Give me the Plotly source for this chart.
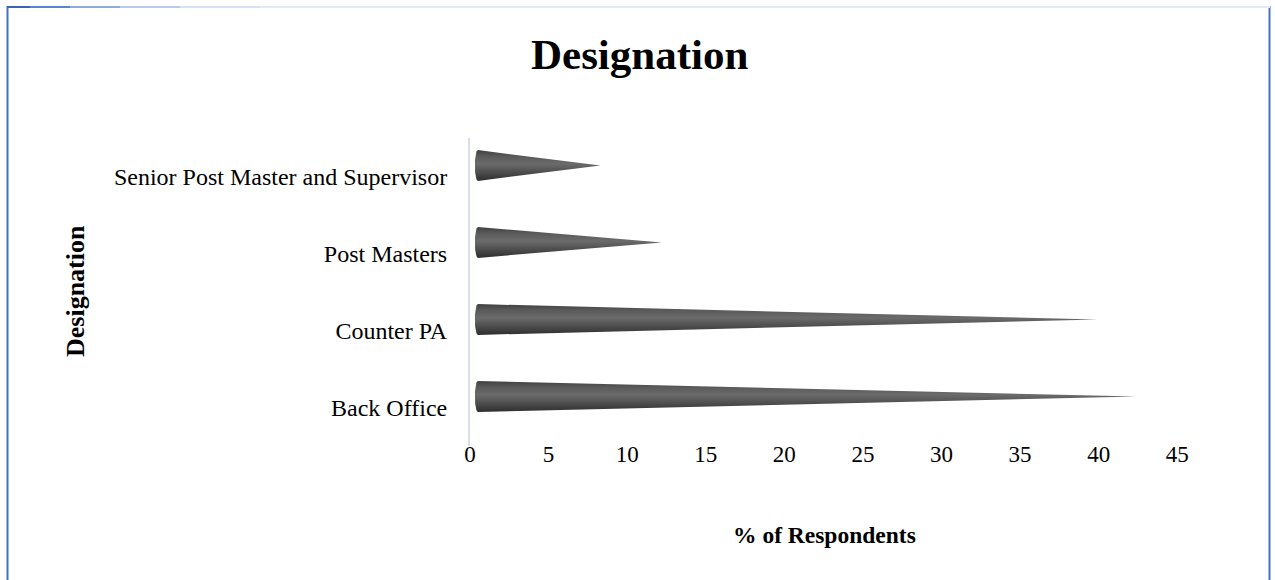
import math
import plotly.graph_objects as go

# Survey data: share of respondents per designation (%)
categories = ["Back Office", "Counter PA", "Post Masters", "Senior Post Master and Supervisor"]
percent = [41.9, 39.4, 11.7, 7.8]
x_ticks = [0, 5, 10, 15, 20, 25, 30, 35, 40, 45]

FONT = "Times New Roman, Liberation Serif, serif"

# Pixel layout of the figure
W, H = 1275, 580
PL, PR = 470, 1193          # plot area left/right (px)
PT, PB = 138, 446           # plot area top/bottom (px)
X_MAX = 46

# Cone geometry (in axis units) and pseudo-3D depth shift
HALF_H = 0.2
CAP_W = 0.19
DEPTH_X = 0.5
DEPTH_Y = 0.143


def px(xp):
    return (xp - PL) / (PR - PL)


def py(yp):
    return (PB - yp) / (PB - PT)


fig = go.Figure()

shade = [[0.0, "#2e2e2e"], [0.22, "#474747"], [0.55, "#6b6b6b"],
         [0.8, "#5a5a5a"], [1.0, "#404040"]]

for i, (cat, v) in enumerate(zip(categories, percent)):
    cy = i + DEPTH_Y
    x0 = DEPTH_X
    xs = [x0, x0 + v, x0]
    ys = [cy + HALF_H, cy, cy - HALF_H]
    n = 24
    for k in range(n + 1):
        t = math.pi * k / n
        xs.append(x0 - CAP_W * math.sin(t))
        ys.append(cy - HALF_H * math.cos(t))
    fig.add_trace(go.Scatter(
        x=xs, y=ys, mode="lines", fill="toself",
        line=dict(width=0, color="#3a3a3a"),
        fillgradient=dict(type="vertical", colorscale=shade),
        hoverinfo="skip", showlegend=False, name=cat,
    ))

fig.update_layout(
    width=W, height=H,
    margin=dict(l=PL, r=W - PR, t=PT, b=H - PB, pad=0),
    paper_bgcolor="white", plot_bgcolor="white",
    font=dict(family=FONT, color="#000000"),
    showlegend=False,
    xaxis=dict(
        range=[0, X_MAX], tickvals=x_ticks, ticktext=[str(t) for t in x_ticks],
        showgrid=False, zeroline=False, showline=False, ticks="",
        tickfont=dict(family=FONT, size=23, color="#000000"),
        ticklabelstandoff=-8,
    ),
    yaxis=dict(
        range=[-0.5, 3.5], tickvals=list(range(len(categories))), ticktext=categories,
        showgrid=False, zeroline=False, showline=True, linecolor="#d9dee9", linewidth=2,
        ticks="", tickfont=dict(family=FONT, size=24, color="#000000"),
        ticklabelstandoff=16,
    ),
    annotations=[
        dict(text="<b>Designation</b>", x=px(640), y=py(54), xref="paper", yref="paper",
             showarrow=False, xanchor="center", yanchor="middle",
             font=dict(family=FONT, size=43, color="#000000")),
        dict(text="<b>% of Respondents</b>", x=px(824), y=py(535), xref="paper", yref="paper",
             showarrow=False, xanchor="center", yanchor="middle",
             font=dict(family=FONT, size=23.5, color="#000000")),
        dict(text="<b>Designation</b>", x=px(75), y=py(291), xref="paper", yref="paper",
             showarrow=False, xanchor="center", yanchor="middle", textangle=-90,
             font=dict(family=FONT, size=26, color="#000000")),
    ],
)

# Chart-area frame: left and right blue edges, fading top edge
frame = []
frame.append(dict(type="line", xref="paper", yref="paper",
                  x0=px(7.5), x1=px(7.5), y0=py(6), y1=py(H + 5),
                  line=dict(color="#4472c4", width=2)))
frame.append(dict(type="line", xref="paper", yref="paper",
                  x0=px(1269.5), x1=px(1269.5), y0=py(6), y1=py(H + 5),
                  line=dict(color="#4472c4", width=2)))
top_cols = ["#3d63b5", "#5b84d0", "#8eaade", "#b9cbec", "#d6e1f3", "#e3eaf6"]
seg = [7, 30, 70, 120, 180, 260, 1270]
for k in range(len(seg) - 1):
    frame.append(dict(type="line", xref="paper", yref="paper",
                      x0=px(seg[k]), x1=px(seg[k + 1]), y0=py(7), y1=py(7),
                      line=dict(color=top_cols[k], width=2)))
fig.update_layout(shapes=frame)

fig.write_html("out.html")
